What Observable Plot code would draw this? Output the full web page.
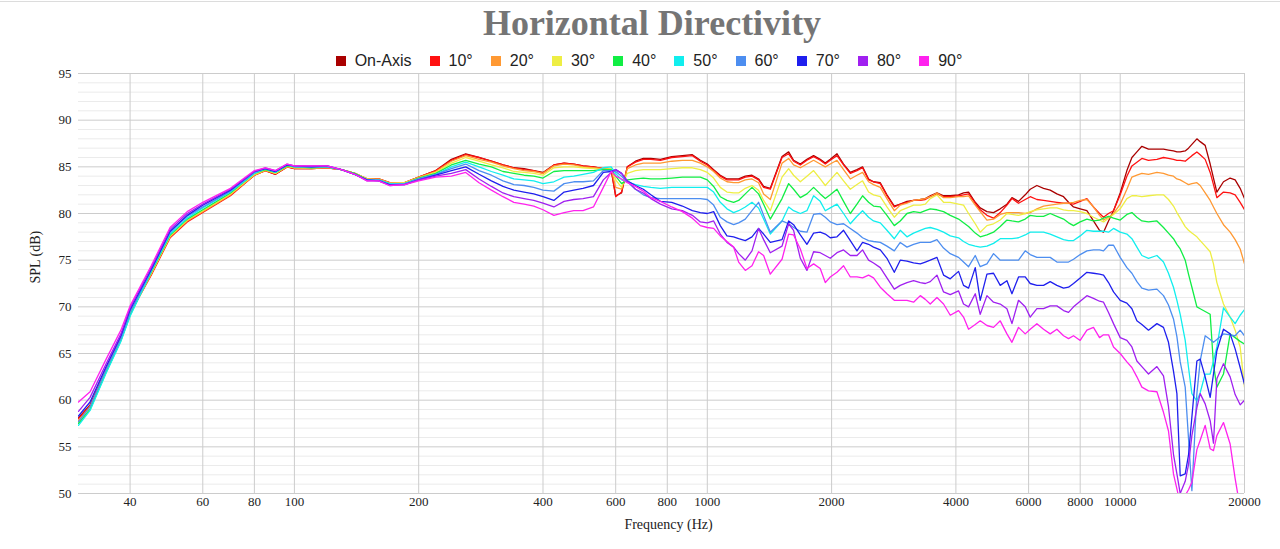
<!DOCTYPE html>
<html><head><meta charset="utf-8">
<script src="https://cdn.jsdelivr.net/npm/d3@7"></script>
<script src="https://cdn.jsdelivr.net/npm/@observablehq/plot@0.6"></script>
<style>
html,body{margin:0;padding:0;background:#fff;}
#wrap{position:relative;width:1280px;height:549px;overflow:hidden;}
#topline{position:absolute;left:0;top:1px;width:1280px;height:0;border-top:1px solid #dcdcdc;}
#title{position:absolute;left:0;top:5px;width:1304px;text-align:center;font:bold 36px/36px "Liberation Serif","Times New Roman",serif;color:#757575;}
#legend{position:absolute;left:0;top:52px;width:1298px;display:flex;justify-content:center;align-items:center;font:16px/18px "Liberation Sans",Arial,sans-serif;color:#222;}
.item{display:flex;align-items:center;margin:0 9px;}
.sw{width:10px;height:10px;margin-right:9px;}
#chart{position:absolute;left:0;top:66px;}
</style></head>
<body><div id="wrap"><div id="topline"></div><div id="title">Horizontal Directivity</div><div id="legend"></div><div id="chart"></div></div>
<script>
const freq = [
30, 32, 35, 38, 40, 45, 50, 55, 60, 70, 80, 85, 90, 96, 100, 110, 120, 130, 140, 150, 160, 170, 185,
200, 220, 240, 260, 280, 300, 320, 340, 360, 380, 400, 425, 450, 475, 500, 530, 560, 585, 600, 620,
640, 670, 700, 730, 770, 820, 870, 920,
962, 1000, 1036, 1075, 1116, 1158, 1191, 1236, 1283, 1331, 1369, 1421, 1517, 1574, 1618, 1680, 1743, 1809, 1877, 1931, 1985, 2061, 2138, 2220, 2304, 2377, 2458, 2527, 2624, 2723, 2837, 2933, 3045, 3159, 3280, 3373, 3467, 3599, 3734, 3876,
4060, 4174, 4293, 4456, 4581, 4756, 4934, 5122, 5317, 5468, 5672, 5888, 6054, 6284, 6521, 6768, 7025, 7291, 7497, 7708, 8000, 8305, 8615, 8911, 9112, 9369, 9634, 10000, 10380,
10674, 10975, 11285, 11709, 12272, 12730, 13090, 13459, 13719, 13974, 14369, 14636, 14915, 15336, 15621, 16062, 16515, 16823, 17144, 17788, 18462, 18983, 19522, 20000
];

const onAxis = [
58.1, 59.5, 63.3, 66.6, 69.4, 73.5, 77.5, 79.2, 80.2, 82.0, 84.1, 84.6, 84.2, 85.0, 84.8, 84.8, 84.9, 84.7, 84.3, 83.7, 83.7, 83.3, 83.3,
83.9, 84.6, 85.8, 86.4, 86.0, 85.6, 85.2, 84.9, 84.8, 84.6, 84.4, 85.2, 85.4, 85.3, 85.1, 85.0, 84.8, 84.7, 81.9, 82.2,
85.0, 85.6, 85.9, 85.9, 85.8, 86.1, 86.2, 86.3,
85.7, 85.3, 84.7, 84.1, 83.7, 83.7, 83.7, 84.0, 84.1, 83.7, 82.9, 82.7, 86.1, 86.6, 85.7, 85.3, 85.8, 86.2, 85.8, 85.4, 85.8, 86.4, 85.3, 84.4, 84.7, 85.0, 83.7, 83.4, 83.3, 82.0, 80.8, 81.0, 81.3, 81.4, 81.5, 81.6, 81.9, 82.2, 81.9, 81.9,
82.0, 82.2, 82.3, 81.2, 80.6, 80.2, 80.1, 80.5, 81.0, 81.7, 81.3, 82.0, 82.6, 83.0, 82.7, 82.5, 82.1, 81.8, 81.2, 80.7, 80.5, 80.3, 79.2, 78.2, 78.0, 79.2, 80.3, 82.2, 84.6,
86.0, 86.6, 87.2, 86.9, 86.9, 86.9, 86.8, 86.7, 86.6, 86.6, 86.7, 87.0, 87.4, 88.0, 87.7, 87.3, 85.3, 83.8, 82.3, 83.4, 83.8, 83.6, 82.7, 81.6
];
const deg10 = [
58.0, 59.4, 63.3, 66.6, 69.3, 73.4, 77.4, 79.1, 80.1, 81.9, 84.1, 84.6, 84.2, 85.0, 84.8, 84.8, 84.9, 84.7, 84.3, 83.7, 83.7, 83.3, 83.3,
83.9, 84.6, 85.7, 86.3, 86.0, 85.6, 85.2, 84.9, 84.7, 84.6, 84.3, 85.2, 85.4, 85.3, 85.1, 85.0, 84.8, 84.7, 81.8, 82.3,
85.0, 85.5, 85.8, 85.8, 85.7, 86.0, 86.1, 86.2,
85.6, 85.2, 84.6, 84.0, 83.6, 83.6, 83.6, 83.9, 84.0, 83.6, 82.8, 82.6, 86.0, 86.4, 85.6, 85.2, 85.7, 86.1, 85.7, 85.3, 85.7, 86.2, 85.2, 84.3, 84.6, 84.9, 83.6, 83.4, 83.2, 81.9, 80.7, 81.0, 81.2, 81.4, 81.4, 81.5, 81.8, 82.1, 81.8, 81.8,
81.9, 82.0, 82.1, 81.1, 80.4, 79.8, 79.5, 80.1, 80.9, 81.6, 81.1, 81.5, 81.8, 81.5, 81.4, 81.3, 81.2, 81.1, 81.1, 81.0, 81.3, 81.6, 80.7, 80.0, 79.6, 80.0, 80.3, 82.0, 84.0,
85.1, 85.5, 85.9, 85.7, 85.8, 86.0, 85.9, 85.8, 85.7, 85.7, 85.6, 85.9, 86.2, 86.6, 86.3, 85.8, 84.4, 83.1, 81.7, 82.3, 82.2, 82.0, 81.2, 80.4
];
const deg20 = [
57.8, 59.3, 63.2, 66.5, 69.3, 73.5, 77.5, 79.2, 80.2, 82.0, 84.1, 84.6, 84.3, 85.0, 84.9, 84.8, 84.9, 84.7, 84.3, 83.7, 83.7, 83.3, 83.3,
83.9, 84.5, 85.6, 86.2, 85.8, 85.5, 85.1, 84.8, 84.6, 84.5, 84.3, 85.1, 85.3, 85.2, 85.0, 84.9, 84.8, 84.8, 82.8, 82.6,
84.8, 85.2, 85.4, 85.4, 85.4, 85.6, 85.7, 85.7,
85.4, 85.0, 84.5, 83.8, 83.4, 83.3, 83.3, 83.6, 83.7, 83.3, 82.1, 81.5, 85.4, 85.9, 85.2, 84.9, 85.3, 85.7, 85.3, 85.0, 85.3, 85.7, 84.7, 83.7, 84.1, 84.4, 83.4, 83.1, 82.8, 81.6, 80.3, 80.9, 81.1, 81.4, 81.5, 81.6, 81.8, 82.2, 81.7, 81.7,
81.8, 81.8, 81.9, 80.9, 80.2, 79.3, 79.4, 79.9, 80.1, 80.1, 80.1, 80.0, 80.1, 80.5, 80.8, 80.9, 81.0, 81.1, 81.1, 81.2, 81.4, 81.5, 80.7, 79.8, 79.3, 79.6, 80.0, 81.0, 82.6,
83.9, 84.1, 84.3, 84.2, 84.4, 84.3, 84.1, 84.0, 83.7, 83.6, 83.3, 83.1, 83.2, 83.3, 83.0, 82.2, 81.4, 80.7, 80.0, 78.8, 78.0, 77.2, 76.2, 74.6
];
const deg30 = [
57.6, 59.1, 63.1, 66.4, 69.2, 73.6, 77.6, 79.3, 80.3, 82.1, 84.2, 84.7, 84.3, 85.1, 84.9, 84.9, 85.0, 84.7, 84.3, 83.7, 83.6, 83.2, 83.3,
83.8, 84.4, 85.4, 86.0, 85.6, 85.2, 84.9, 84.5, 84.4, 84.3, 84.1, 84.9, 85.0, 85.0, 84.9, 84.8, 84.7, 84.8, 83.6, 82.8,
84.3, 84.6, 84.7, 84.7, 84.7, 84.8, 84.9, 84.9,
84.7, 84.4, 83.8, 82.8, 82.3, 82.2, 82.2, 82.7, 83.0, 82.5, 81.4, 80.3, 83.9, 84.8, 84.1, 83.4, 84.0, 84.6, 83.7, 83.0, 83.6, 84.4, 83.5, 82.6, 83.1, 83.5, 82.3, 82.0, 81.8, 80.7, 79.6, 80.3, 80.6, 80.9, 80.9, 81.0, 81.6, 82.0, 81.2, 81.2,
81.0, 80.9, 80.0, 78.9, 78.0, 78.7, 78.9, 79.3, 80.0, 79.9, 79.8, 80.0, 80.2, 80.4, 80.5, 80.6, 80.6, 80.4, 80.3, 80.3, 80.2, 80.0, 79.6, 79.3, 79.1, 79.5, 79.9, 80.5, 81.6,
81.9, 81.9, 81.8, 81.9, 82.0, 82.0, 81.5, 80.8, 80.1, 79.5, 78.6, 78.2, 77.9, 77.5, 77.1, 76.5, 75.9, 74.6, 72.6, 70.3, 68.9, 67.5, 65.7, 61.4
];
const deg40 = [
57.5, 59.0, 63.0, 66.4, 69.1, 73.7, 77.7, 79.4, 80.4, 82.2, 84.3, 84.7, 84.4, 85.1, 85.0, 84.9, 85.0, 84.7, 84.3, 83.6, 83.6, 83.2, 83.2,
83.8, 84.3, 85.2, 85.7, 85.3, 85.0, 84.5, 84.3, 84.1, 84.0, 83.8, 84.5, 84.6, 84.6, 84.6, 84.6, 84.7, 84.7, 84.0, 83.2,
83.6, 83.7, 83.8, 83.7, 83.7, 83.8, 83.9, 83.9,
83.9, 83.6, 82.9, 81.8, 81.4, 81.2, 81.4, 82.1, 82.8, 82.1, 81.0, 79.4, 81.6, 83.2, 82.6, 81.7, 82.1, 82.8, 82.1, 81.6, 82.0, 82.6, 81.3, 80.0, 81.0, 81.9, 81.2, 80.8, 80.7, 79.8, 78.7, 79.2, 80.0, 80.2, 80.1, 80.3, 80.5, 80.4, 80.2, 79.8,
79.4, 79.0, 78.6, 77.9, 77.5, 77.7, 78.0, 78.6, 79.3, 79.2, 79.1, 79.4, 79.8, 79.7, 79.7, 80.0, 79.7, 79.4, 79.0, 78.7, 79.1, 79.4, 79.2, 79.3, 79.5, 79.7, 79.5, 79.3, 79.9,
80.1, 79.6, 79.2, 79.1, 79.2, 78.5, 77.9, 77.3, 76.7, 76.2, 75.0, 73.5, 72.1, 70.0, 69.8, 69.5, 69.2, 63.8, 61.4, 62.8, 67.1, 66.7, 66.3, 66.0
];
const deg50 = [
57.3, 58.9, 62.9, 66.3, 69.0, 73.8, 77.8, 79.5, 80.6, 82.3, 84.3, 84.8, 84.4, 85.2, 85.0, 85.0, 85.0, 84.7, 84.2, 83.6, 83.6, 83.2, 83.2,
83.7, 84.2, 85.0, 85.5, 85.0, 84.5, 84.1, 83.7, 83.6, 83.5, 83.2, 83.4, 83.9, 84.0, 84.2, 84.4, 84.9, 85.0, 84.3, 83.6,
83.4, 83.1, 82.9, 82.8, 82.7, 82.8, 82.8, 82.8,
82.8, 82.8, 82.3, 81.2, 80.5, 80.1, 80.3, 80.7, 81.2, 80.6, 79.4, 77.8, 79.2, 80.7, 80.3, 80.0, 80.3, 81.9, 81.3, 80.3, 80.6, 81.0, 80.0, 78.9, 79.7, 80.3, 79.6, 79.2, 79.0, 78.2, 77.3, 78.2, 77.5, 77.9, 78.2, 78.4, 78.5, 78.3, 78.0, 77.6,
77.4, 77.0, 76.7, 76.5, 76.4, 76.5, 76.8, 77.3, 77.3, 77.3, 77.4, 77.7, 78.0, 78.0, 78.0, 77.8, 77.5, 77.2, 77.1, 77.1, 77.6, 78.2, 78.1, 78.1, 78.1, 78.0, 78.4, 78.0, 77.8,
77.3, 76.4, 75.5, 75.2, 75.5, 74.8, 73.6, 72.1, 70.7, 69.2, 66.4, 63.5, 60.7, 59.9, 60.8, 62.8, 62.8, 64.2, 65.7, 69.9, 68.9, 68.2, 69.1, 69.7
];
const deg60 = [
57.7, 59.3, 63.3, 66.6, 69.4, 73.9, 78.0, 79.7, 80.7, 82.4, 84.4, 84.8, 84.5, 85.2, 85.0, 85.0, 85.0, 84.7, 84.2, 83.6, 83.6, 83.1, 83.2,
83.7, 84.2, 84.8, 85.3, 84.6, 84.1, 83.5, 83.1, 83.0, 82.8, 82.5, 82.4, 83.2, 83.4, 83.4, 83.5, 84.6, 84.6, 84.5, 84.0,
83.4, 82.6, 82.0, 81.7, 81.6, 81.6, 81.6, 81.6,
81.6, 81.5, 80.9, 79.6, 79.1, 78.8, 79.0, 79.4, 80.3, 81.2, 79.8, 78.0, 79.2, 78.9, 78.5, 78.1, 78.0, 79.9, 80.0, 79.6, 79.1, 78.8, 78.9, 78.4, 77.9, 77.4, 77.1, 77.0, 76.9, 76.5, 76.0, 76.9, 76.4, 76.7, 76.9, 76.9, 76.9, 77.2, 76.3, 75.7,
75.3, 74.8, 74.3, 75.5, 74.3, 74.6, 75.7, 75.0, 75.0, 75.0, 75.0, 76.0, 75.6, 75.3, 75.3, 75.3, 74.8, 74.8, 74.8, 75.1, 75.6, 76.0, 76.1, 76.1, 76.0, 76.6, 76.6, 75.3, 74.2,
73.6, 72.7, 72.0, 71.8, 71.9, 71.2, 70.2, 68.7, 66.8, 64.1, 61.4, 55.9, 50.3, 60.7, 64.2, 66.9, 66.5, 66.2, 66.5, 67.1, 67.0, 66.9, 67.5, 66.9
];
const deg70 = [
58.3, 59.8, 63.6, 66.9, 69.7, 74.0, 78.1, 79.8, 80.9, 82.5, 84.5, 84.8, 84.5, 85.2, 85.1, 85.0, 85.1, 84.7, 84.2, 83.6, 83.5, 83.1, 83.1,
83.6, 84.1, 84.6, 85.0, 84.2, 83.5, 82.9, 82.5, 82.3, 82.1, 81.8, 81.4, 82.3, 82.5, 82.7, 83.0, 84.4, 84.5, 84.7, 84.3,
83.5, 83.0, 82.6, 82.0, 81.3, 81.2, 80.8, 80.3,
80.1, 80.0, 80.2, 78.7, 77.6, 77.5, 77.3, 77.1, 77.5, 78.4, 77.8, 76.9, 77.2, 79.2, 78.8, 77.7, 76.7, 77.9, 78.0, 77.8, 77.4, 77.5, 78.2, 77.1, 76.0, 76.9, 76.7, 76.4, 76.1, 75.2, 73.7, 75.0, 74.9, 74.7, 74.6, 74.8, 75.0, 75.3, 73.4, 73.0,
73.8, 72.3, 72.0, 74.2, 70.7, 73.5, 73.6, 72.3, 72.8, 71.4, 73.2, 73.2, 72.5, 72.3, 72.3, 72.7, 72.3, 72.0, 72.1, 72.5, 73.1, 73.7, 73.6, 73.5, 73.4, 72.6, 71.6, 70.7, 70.4,
69.8, 68.5, 68.1, 67.5, 68.2, 67.8, 66.2, 63.1, 60.7, 51.9, 52.1, 54.1, 58.2, 64.2, 64.4, 62.5, 60.3, 62.8, 65.3, 67.6, 67.1, 65.5, 63.5, 61.7
];
const deg80 = [
58.8, 60.3, 63.9, 67.1, 69.9, 74.2, 78.3, 80.0, 81.0, 82.6, 84.5, 84.9, 84.6, 85.3, 85.1, 85.1, 85.1, 84.7, 84.2, 83.5, 83.5, 83.0, 83.1,
83.6, 84.0, 84.3, 84.7, 83.7, 82.9, 82.2, 81.8, 81.6, 81.4, 81.1, 80.7, 81.3, 81.5, 81.6, 81.8, 83.6, 84.4, 84.7, 84.3,
83.5, 82.6, 82.2, 81.6, 81.0, 80.5, 80.3, 79.8,
79.1, 79.0, 79.2, 77.8, 76.9, 76.4, 75.7, 75.0, 76.0, 78.4, 77.2, 75.8, 76.5, 78.9, 78.2, 75.2, 73.9, 75.9, 75.8, 75.5, 75.2, 75.8, 76.1, 75.5, 75.5, 76.1, 75.0, 74.7, 74.2, 73.1, 71.9, 72.3, 72.6, 72.8, 72.6, 72.5, 72.7, 73.4, 71.6, 71.3,
71.7, 70.3, 70.0, 71.4, 69.2, 71.2, 70.5, 70.3, 69.8, 68.2, 70.7, 70.0, 68.9, 69.8, 69.8, 70.1, 70.1, 69.6, 69.4, 70.0, 70.6, 71.2, 70.9, 70.6, 70.5, 69.4, 68.2, 66.7, 66.4,
65.7, 64.2, 63.6, 62.8, 63.6, 62.6, 59.3, 54.2, 52.1, 50.0, 51.3, 53.1, 56.2, 59.2, 60.7, 59.6, 57.8, 55.4, 62.3, 63.9, 62.5, 60.6, 59.5, 60.0
];
const deg90 = [
59.8, 60.9, 64.4, 67.5, 70.1, 74.4, 78.5, 80.2, 81.2, 82.7, 84.6, 84.9, 84.6, 85.3, 85.1, 85.1, 85.1, 84.7, 84.2, 83.5, 83.5, 83.0, 83.1,
83.5, 83.9, 84.0, 84.4, 83.3, 82.5, 81.8, 81.2, 81.0, 80.8, 80.4, 79.8, 80.1, 80.3, 80.3, 80.7, 82.8, 84.5, 84.0, 83.7,
83.3, 82.9, 82.4, 81.7, 81.3, 80.7, 80.2, 79.5,
78.7, 78.5, 78.4, 77.6, 77.0, 76.4, 74.8, 73.9, 74.4, 75.9, 75.5, 73.5, 75.1, 77.8, 77.7, 76.2, 74.1, 74.6, 74.1, 72.6, 73.2, 73.7, 74.4, 73.2, 73.2, 73.1, 73.4, 73.1, 72.1, 71.4, 70.7, 70.7, 70.7, 70.5, 71.2, 70.8, 70.3, 71.0, 70.3, 69.1,
69.6, 68.9, 67.6, 68.1, 68.5, 68.0, 67.8, 68.5, 67.1, 66.2, 67.8, 67.1, 67.6, 68.2, 67.6, 67.1, 67.6, 66.9, 66.6, 66.9, 66.4, 67.5, 67.8, 66.7, 67.0, 67.0, 65.7, 65.0, 64.1,
63.5, 62.5, 61.4, 61.0, 60.9, 58.7, 56.7, 52.1, 50.5, 48.9, 49.8, 50.4, 51.2, 54.7, 55.7, 57.3, 54.8, 54.6, 56.2, 57.6, 55.3, 51.6, 48.4, 47.1
];

const seriesNames = ["On-Axis", "10°", "20°", "30°", "40°", "50°", "60°", "70°", "80°", "90°"];
const seriesColors = ["#aa0000", "#ff1111", "#ff9933", "#eeee44", "#11ee44", "#11eeee", "#4d8ef0", "#1f1fee", "#a020f0", "#ff22ee"];
const seriesValues = [onAxis, deg10, deg20, deg30, deg40, deg50, deg60, deg70, deg80, deg90];
const xTicks = [40, 60, 80, 100, 200, 400, 600, 800, 1000, 2000, 4000, 6000, 8000, 10000, 20000];
const yTicks = [50, 55, 60, 65, 70, 75, 80, 85, 90, 95];

seriesValues.forEach((v, i) => {
  if (v.length !== freq.length) throw new Error(seriesNames[i] + " has " + v.length + " values, expected " + freq.length);
});

const rows = seriesValues.flatMap((vals, i) => vals.map((v, j) => ({freq: freq[j], spl: v, series: seriesNames[i]})));
const yMinor = d3.range(50, 96).filter(v => v % 5 !== 0);

// legend
const legend = document.getElementById("legend");
seriesNames.forEach((n, i) => {
  const it = document.createElement("div");
  it.className = "item";
  const sw = document.createElement("div");
  sw.className = "sw";
  sw.style.background = seriesColors[i];
  const tx = document.createElement("span");
  tx.textContent = n;
  it.appendChild(sw); it.appendChild(tx);
  legend.appendChild(it);
});

const chart = Plot.plot({
  width: 1280,
  height: 483,
  marginTop: 7,
  marginBottom: 56,
  marginLeft: 78,
  marginRight: 36,
  style: {fontFamily: '"Liberation Serif", "Times New Roman", serif', fontSize: "13px", color: "#222", background: "transparent"},
  x: {type: "log", domain: [30, 20000], axis: null},
  y: {domain: [50, 95], axis: null},
  color: {domain: seriesNames, range: seriesColors},
  marks: [
    Plot.ruleY(yMinor, {stroke: "#ebebeb", strokeWidth: 1}),
    Plot.ruleX(xTicks, {stroke: "#cccccc", strokeWidth: 1}),
    Plot.ruleY(yTicks, {stroke: "#cccccc", strokeWidth: 1}),
    Plot.line(rows, {x: "freq", y: "spl", z: "series", stroke: "series", strokeWidth: 1.3, clip: true}),
    Plot.text(xTicks, {x: d => d, text: d => String(d), frameAnchor: "bottom", dy: 12, fontSize: 13, fill: "#222"}),
    Plot.text(yTicks, {y: d => d, text: d => String(d), frameAnchor: "left", dx: -7, textAnchor: "end", fontSize: 13, fill: "#222"}),
    Plot.text(["Frequency (Hz)"], {text: d => d, frameAnchor: "bottom", dy: 35, dx: 7, fontSize: 14, fill: "#222"}),
    Plot.text(["SPL (dB)"], {text: d => d, frameAnchor: "left", dx: -43, rotate: -90, fontSize: 14, fill: "#222"})
  ]
});
document.getElementById("chart").appendChild(chart);
</script></body></html>
